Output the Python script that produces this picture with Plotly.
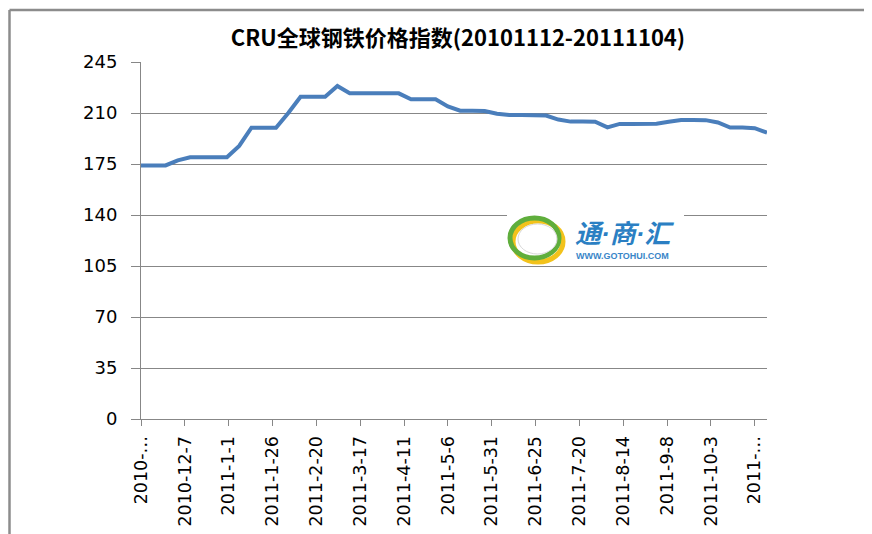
import datetime as dt
import plotly.graph_objects as go

# ---- data ----
start_date = "2010-11-12"
end_date = "2011-11-04"
dates = [(dt.date(2010, 11, 12) + dt.timedelta(days=7 * i)).isoformat() for i in range(52)]
values = [174.0, 174.0, 174.0, 177.5, 179.6, 179.6, 179.6, 179.6, 187.4, 199.9,
          199.9, 199.9, 210.0, 221.2, 221.2, 221.2, 228.5, 223.5, 223.5, 223.5,
          223.5, 223.5, 219.4, 219.4, 219.4, 214.5, 211.6, 211.6, 211.4, 209.5,
          208.6, 208.6, 208.6, 208.3, 205.5, 204.1, 204.1, 204.0, 200.1, 202.5,
          202.5, 202.5, 202.6, 204.0, 205.2, 205.2, 205.1, 203.5, 200.0, 200.0,
          199.6, 196.5]
xtick_vals = [(dt.date(2010, 11, 12) + dt.timedelta(days=25 * i)).isoformat() for i in range(15)]
xtick_text = ["2010-…", "2010-12-7", "2011-1-1", "2011-1-26", "2011-2-20", "2011-3-17",
              "2011-4-11", "2011-5-6", "2011-5-31", "2011-6-25", "2011-7-20", "2011-8-14",
              "2011-9-8", "2011-10-3", "2011-…"]
ytick_vals = [0, 35, 70, 105, 140, 175, 210, 245]
title_text = "CRU全球钢铁价格指数(20101112-20111104)"

# ---- layout geometry (page pixels; the page body adds an 8px offset) ----
OFF = 8
W, H = 872 - OFF, 534 - OFF
L, R, T, B = 141, 767, 62, 419   # plot area in page pixels


def px(x):
    return (x - L) / (R - L)


def py(y):
    return (B - y) / (B - T)


fig = go.Figure()
fig.add_trace(go.Scatter(x=dates, y=values, mode="lines",
                         line=dict(color="#4a7ebb", width=4), hoverinfo="x+y"))

grid = "#878787"
fig.update_layout(
    width=W, height=H,
    margin=dict(l=L - OFF, r=W - (R - OFF), t=T - OFF, b=H - (B - OFF), autoexpand=False),
    paper_bgcolor="white", plot_bgcolor="white",
    showlegend=False,
    title=dict(text=title_text, x=(458 - OFF) / W, xref="container", xanchor="center",
               y=1 - (38 - OFF) / H, yref="container", yanchor="middle",
               font=dict(family="Noto Sans CJK SC", size=22, color="black", weight="bold")),
    xaxis=dict(type="date", range=[start_date, end_date], tickmode="array",
               tickvals=xtick_vals, ticktext=xtick_text, tickangle=-90,
               showgrid=False, showline=True, linecolor=grid, linewidth=1,
               ticks="outside", ticklen=6, tickcolor=grid, ticklabelstandoff=3,
               tickfont=dict(family="DejaVu Sans", size=17.5, color="black"),
               zeroline=False, automargin=False),
    yaxis=dict(range=[0, 245], tickmode="array", tickvals=ytick_vals,
               showgrid=True, gridcolor=grid, gridwidth=1,
               showline=True, linecolor=grid, linewidth=1,
               ticks="outside", ticklen=9, tickcolor=grid, ticklabelstandoff=10,
               tickfont=dict(family="DejaVu Sans", size=18, color="black"),
               zeroline=False, automargin=False),
)

# outer chart border (left and top), as close to the page edge as the figure allows
border = "#8c8c8c"
fig.add_shape(type="line", xref="paper", yref="paper", x0=px(9.5), x1=px(9.5),
              y0=py(540), y1=py(10), line=dict(color=border, width=2.5))
fig.add_shape(type="line", xref="paper", yref="paper", x0=px(9.5), x1=px(880),
              y0=py(10), y1=py(10), line=dict(color=border, width=2.5))

# watermark logo
fig.add_shape(type="rect", xref="paper", yref="paper", x0=px(507), x1=px(684),
              y0=py(263), y1=py(213), fillcolor="white", line=dict(width=0), layer="above")
fig.add_shape(type="circle", xref="paper", yref="paper", x0=px(513), x1=px(563),
              y0=py(262), y1=py(221), line=dict(color="#f2c21b", width=5), layer="above")
fig.add_shape(type="circle", xref="paper", yref="paper", x0=px(510), x1=px(559),
              y0=py(258), y1=py(218), line=dict(color="#5fae3c", width=5), layer="above")
fig.add_shape(type="circle", xref="paper", yref="paper", x0=px(518), x1=px(557),
              y0=py(254), y1=py(224), fillcolor="white", line=dict(color="#d8d8d8", width=1),
              layer="above")
fig.add_annotation(text="<i>通·商·汇</i>", xref="paper", yref="paper", x=px(624), y=py(234),
                   showarrow=False, xanchor="center", yanchor="middle",
                   font=dict(family="Liberation Sans, Noto Sans CJK SC", size=26,
                             color="#2b7fc3", weight="bold"))
fig.add_annotation(text="WWW.GOTOHUI.COM", xref="paper", yref="paper", x=px(622), y=py(256),
                   showarrow=False, xanchor="center", yanchor="middle",
                   font=dict(family="Liberation Sans", size=9, color="#3a86c8", weight="bold"))

fig.write_html("out.html")
